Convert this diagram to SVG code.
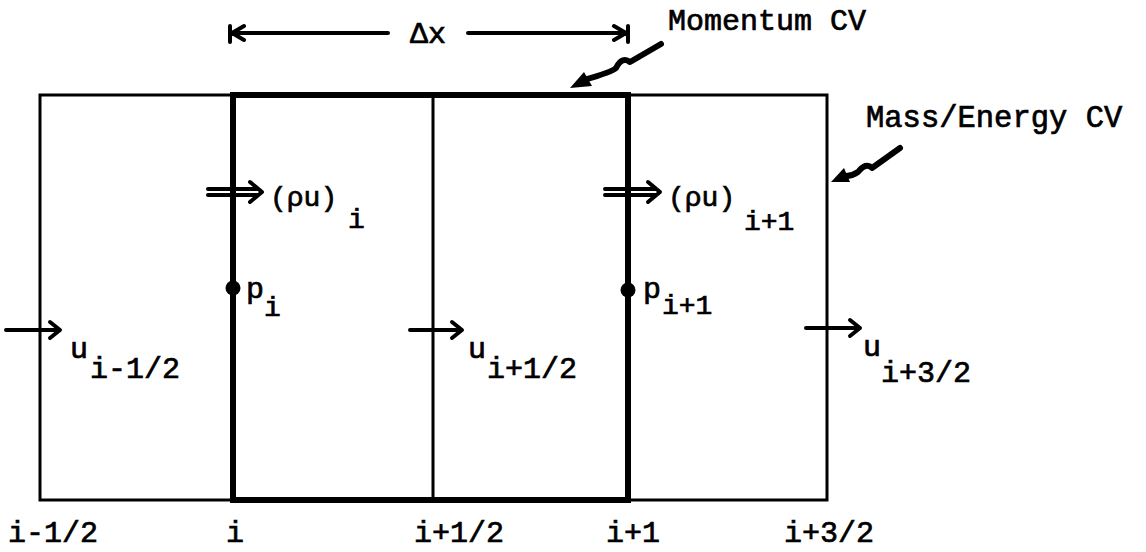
<svg xmlns="http://www.w3.org/2000/svg" width="1146" height="552" viewBox="0 0 1146 552">
<style>
text{font-family:"Liberation Mono","Courier New",monospace;fill:#000;stroke:#000;stroke-width:0.7;}
.lab{font-size:30px;}
.big{font-size:30.5px;}
.sub{font-size:28px;}
.thin{stroke:#000;stroke-width:3;fill:none;}
.thick{stroke:#000;stroke-width:6;fill:none;}
.arr{stroke:#000;stroke-width:4;fill:none;stroke-linecap:round;stroke-linejoin:round;}
.sq{stroke:#000;stroke-width:6;fill:none;stroke-linecap:round;stroke-linejoin:round;}
</style>
<rect width="1146" height="552" fill="#fff"/>
<g id="cells">
<rect x="40" y="95" width="787" height="405" class="thin"/>
<line x1="433" y1="95" x2="433" y2="500" class="thin"/>
</g>
<g id="momentum-cv">
<rect x="233" y="95" width="395" height="405" class="thick"/>
</g>
<g id="connectors">
<path d="M230,26 V42 M232,33 H388 M232,33 L244,26 M232,33 L244,40" class="arr"/>
<path d="M628,26 V42 M468,33 H626 M626,33 L614,26 M626,33 L614,40" class="arr"/>
<path d="M661,44 L630,62 Q622,56 616,68 Q612,72 584,80" class="sq"/>
<polygon points="570,88 584,72 592,86" fill="#000"/>
<path d="M900,148 L872,168 Q866,162 858,172 Q852,176 846,176" class="sq"/>
<polygon points="831,182 844,168 850,182" fill="#000"/>
<path d="M208,189 H258 M208,195 H258 M250,182 L262,192 L250,202" class="arr" stroke-width="3.5"/>
<path d="M605,189 H656 M605,195 H656 M648,182 L660,192 L648,202" class="arr" stroke-width="3.5"/>
<path d="M6,330 H58 M50,322 L60,330 L50,338" class="arr"/>
<path d="M410,330 H460 M452,322 L462,330 L452,338" class="arr"/>
<path d="M806,328 H858 M850,320 L860,328 L850,336" class="arr"/>
</g>
<g id="points">
<circle cx="233" cy="288" r="7.5" fill="#000"/>
<circle cx="628" cy="290" r="7.5" fill="#000"/>
</g>
<g id="labels">
<text x="410" y="43" class="lab">Δx</text>
<text x="668" y="30" class="lab">Momentum CV</text>
<text x="866" y="127" class="big">Mass/Energy CV</text>
<text x="270" y="206" class="sub">(ρu)</text>
<text x="348" y="228" class="sub">i</text>
<text x="668" y="206" class="sub">(ρu)</text>
<text x="744" y="230" class="sub">i+1</text>
<text x="246" y="298" class="lab">p</text>
<text x="264" y="316" class="sub">i</text>
<text x="643" y="298" class="lab">p</text>
<text x="662" y="314" class="sub">i+1</text>
<text x="70" y="358" class="lab">u</text>
<text x="90" y="378" class="lab">i-1/2</text>
<text x="468" y="358" class="lab">u</text>
<text x="487" y="378" class="lab">i+1/2</text>
<text x="863" y="356" class="lab">u</text>
<text x="881" y="382" class="lab">i+3/2</text>
<text x="8" y="542" class="lab">i-1/2</text>
<text x="226" y="542" class="lab">i</text>
<text x="414" y="542" class="lab">i+1/2</text>
<text x="606" y="542" class="lab">i+1</text>
<text x="784" y="542" class="lab">i+3/2</text>
</g>
</svg>
